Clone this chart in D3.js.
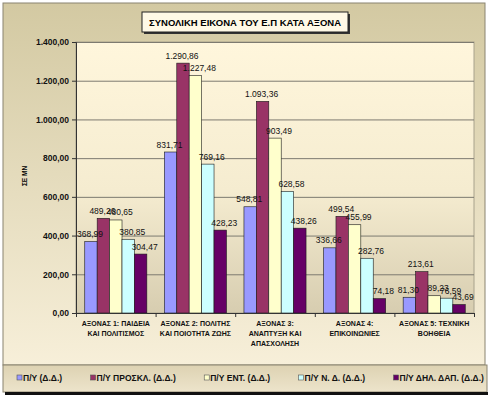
<!DOCTYPE html>
<html>
<head>
<meta charset="utf-8">
<script src="https://cdn.jsdelivr.net/npm/d3@7"></script>
<style>
  body { margin: 0; background: #fff; }
  text { font-family: Arial, "Liberation Sans", sans-serif; }
</style>
</head>
<body>
<script>
// data
const title = "ΣΥΝΟΛΙΚΗ ΕΙΚΟΝΑ ΤΟΥ Ε.Π ΚΑΤΑ ΑΞΟΝΑ";
const yTitle = "ΣΕ ΜΝ";
const categories = [
  ["ΑΞΟΝΑΣ 1: ΠΑΙΔΕΙΑ", "ΚΑΙ ΠΟΛΙΤΙΣΜΟΣ"],
  ["ΑΞΟΝΑΣ 2: ΠΟΛΙΤΗΣ", "ΚΑΙ ΠΟΙΟΤΗΤΑ ΖΩΗΣ"],
  ["ΑΞΟΝΑΣ 3:", "ΑΝΑΠΤΥΞΗ ΚΑΙ", "ΑΠΑΣΧΟΛΗΣΗ"],
  ["ΑΞΟΝΑΣ 4:", "ΕΠΙΚΟΙΝΩΝΙΕΣ"],
  ["ΑΞΟΝΑΣ 5: ΤΕΧΝΙΚΗ", "ΒΟΗΘΕΙΑ"]
];
const seriesNames = [
  "Π/Υ (Δ.Δ.)",
  "Π/Υ ΠΡΟΣΚΛ. (Δ.Δ.)",
  "Π/Υ ΕΝΤ. (Δ.Δ.)",
  "Π/Υ Ν. Δ. (Δ.Δ.)",
  "Π/Υ ΔΗΛ. ΔΑΠ. (Δ.Δ.)"
];
const pyDD = [368.99, 831.71, 548.81, 336.66, 81.3];
const pyProskl = [489.26, 1290.86, 1093.36, 499.54, 213.61];
const pyEnt = [480.65, 1227.48, 903.49, 455.99, 89.23];
const pyND = [380.85, 769.16, 628.58, 282.76, 76.59];
const pyDhl = [304.47, 428.23, 438.26, 74.18, 43.69];
const series = [pyDD, pyProskl, pyEnt, pyND, pyDhl];
const yTicks = [0, 200, 400, 600, 800, 1000, 1200, 1400];

const colors = ["#9999FF", "#993366", "#FFFFCC", "#CCFFFF", "#660066"];

// layout
const width = 490;
const height = 398;
const plotLeft = 76;
const plotRight = 474;
const plotTop = 42;
const plotBottom = 313;

const gr = d3.formatLocale({ decimal: ",", thousands: ".", grouping: [3], currency: ["", "€"] });
const fmt = gr.format(",.2f");

const svg = d3.select("body").append("svg")
  .attr("width", width)
  .attr("height", height);

const defs = svg.append("defs");
const frameGrad = defs.append("linearGradient").attr("id", "frameGrad")
  .attr("x1", 0).attr("y1", 0).attr("x2", 0).attr("y2", 1);
frameGrad.append("stop").attr("offset", "0%").attr("stop-color", "#D3C9A2");
frameGrad.append("stop").attr("offset", "100%").attr("stop-color", "#F7EFD9");

const plotGrad = defs.append("linearGradient").attr("id", "plotGrad")
  .attr("x1", 0).attr("y1", 0).attr("x2", 0).attr("y2", 1);
plotGrad.append("stop").attr("offset", "0%").attr("stop-color", "#FFF6DC");
plotGrad.append("stop").attr("offset", "55%").attr("stop-color", "#F5ECD0");
plotGrad.append("stop").attr("offset", "100%").attr("stop-color", "#D7CDB0");

const legendGrad = defs.append("linearGradient").attr("id", "legendGrad")
  .attr("x1", 0).attr("y1", 0).attr("x2", 0).attr("y2", 1);
legendGrad.append("stop").attr("offset", "0%").attr("stop-color", "#DDD2B2");
legendGrad.append("stop").attr("offset", "100%").attr("stop-color", "#EDE4CB");

// outer frame
svg.append("rect")
  .attr("x", 3).attr("y", 3)
  .attr("width", 482).attr("height", 362)
  .attr("fill", "url(#frameGrad)")
  .attr("stroke", "#8a8470");

// legend box
svg.append("rect")
  .attr("x", 3).attr("y", 365)
  .attr("width", 484).attr("height", 27)
  .attr("fill", "url(#legendGrad)")
  .attr("stroke", "#8a8470");
svg.append("line")
  .attr("x1", 5).attr("x2", 488)
  .attr("y1", 393.5).attr("y2", 393.5)
  .attr("stroke", "#111").attr("stroke-width", 3);

// title
svg.append("rect")
  .attr("x", 144).attr("y", 14)
  .attr("width", 206).attr("height", 20)
  .attr("fill", "#333");
svg.append("rect")
  .attr("x", 142).attr("y", 12)
  .attr("width", 206).attr("height", 20)
  .attr("fill", "#FFF9E6")
  .attr("stroke", "#222");
svg.append("text")
  .attr("x", 245).attr("y", 26)
  .attr("text-anchor", "middle")
  .attr("font-size", 9.5)
  .attr("font-weight", "bold")
  .text(title);

// scales
const y = d3.scaleLinear().domain([0, 1400]).range([plotBottom, plotTop]);
const x0 = d3.scaleBand()
  .domain(d3.range(categories.length))
  .range([plotLeft, plotRight])
  .paddingInner(0.22)
  .paddingOuter(0.11);
const x1 = d3.scaleBand()
  .domain(d3.range(series.length))
  .range([0, x0.bandwidth()]);

// plot area
svg.append("rect")
  .attr("x", plotLeft).attr("y", plotTop)
  .attr("width", plotRight - plotLeft).attr("height", plotBottom - plotTop)
  .attr("fill", "url(#plotGrad)")
  .attr("stroke", "#a8a28c");

// gridlines
svg.append("g")
  .attr("transform", `translate(${plotLeft},0)`)
  .call(d3.axisLeft(y).tickValues(yTicks).tickSize(-(plotRight - plotLeft)).tickFormat(""))
  .call(g => g.select(".domain").remove())
  .call(g => g.selectAll("line").attr("stroke", "#7d7a70"));

// bars
const groups = svg.append("g").selectAll("g")
  .data(categories)
  .join("g")
  .attr("transform", (d, i) => `translate(${x0(i)},0)`);

groups.selectAll("rect")
  .data((d, i) => series.map((s, j) => ({ s: j, v: s[i] })))
  .join("rect")
  .attr("x", d => x1(d.s))
  .attr("y", d => y(d.v))
  .attr("width", x1.bandwidth())
  .attr("height", d => y(0) - y(d.v))
  .attr("fill", d => colors[d.s])
  .attr("stroke", "#1a1a1a")
  .attr("stroke-width", 0.6);

groups.selectAll("text")
  .data((d, i) => series.map((s, j) => ({ s: j, v: s[i] })))
  .join("text")
  .attr("x", d => x1(d.s) + x1.bandwidth() / 2 + (d.s >= 2 ? 4 : -1))
  .attr("y", d => y(d.v) - 4.5)
  .attr("text-anchor", "middle")
  .attr("font-size", 8.5)
  .attr("fill", "#111")
  .text(d => fmt(d.v));

// y axis
svg.append("g")
  .attr("transform", `translate(${plotLeft},0)`)
  .call(d3.axisLeft(y).tickValues(yTicks).tickSize(4).tickPadding(3).tickFormat(fmt))
  .call(g => g.selectAll("text").attr("font-size", 8.5).attr("font-weight", "bold")
    .attr("font-family", "Arial, 'Liberation Sans', sans-serif").attr("fill", "#111"))
  .call(g => g.selectAll("line, path").attr("stroke", "#333"));

svg.append("text")
  .attr("transform", "translate(27,176) rotate(-90)")
  .attr("text-anchor", "middle")
  .attr("font-size", 6.5)
  .attr("font-weight", "bold")
  .text(yTitle);

// x axis
const xb = d3.scaleLinear().domain([0, categories.length]).range([plotLeft, plotRight]);
svg.append("g")
  .attr("transform", `translate(0,${plotBottom})`)
  .call(d3.axisBottom(xb).ticks(categories.length).tickSize(4).tickFormat(""))
  .call(g => g.selectAll("line, path").attr("stroke", "#333"));

svg.append("g").selectAll("text")
  .data(categories)
  .join("text")
  .attr("text-anchor", "middle")
  .attr("font-size", 7)
  .attr("font-weight", "bold")
  .attr("fill", "#111")
  .each(function (lines, i) {
    d3.select(this).selectAll("tspan")
      .data(lines)
      .join("tspan")
      .attr("x", x0(i) + x0.bandwidth() / 2)
      .attr("y", (d, k) => 326 + k * 10)
      .text(d => d);
  });

// legend
const legend = svg.append("g").attr("transform", "translate(0,381)");
const items = legend.selectAll("g")
  .data(seriesNames)
  .join("g");
items.append("rect")
  .attr("x", 0).attr("y", -6)
  .attr("width", 5).attr("height", 5)
  .attr("fill", (d, i) => colors[i])
  .attr("stroke", "#555")
  .attr("stroke-width", 0.6);
items.append("text")
  .attr("x", 6)
  .attr("font-size", 8.5)
  .attr("font-weight", "bold")
  .attr("fill", "#111")
  .text(d => d);

// spread items with equal gaps between 17 and 484
const itemWidths = [];
items.each(function () { itemWidths.push(this.getBBox().width); });
const gap = (484 - 17 - d3.sum(itemWidths)) / (seriesNames.length - 1);
let pos = 17;
items.attr("transform", (d, i) => {
  const t = `translate(${pos},0)`;
  pos += itemWidths[i] + gap;
  return t;
});
</script>
</body>
</html>
